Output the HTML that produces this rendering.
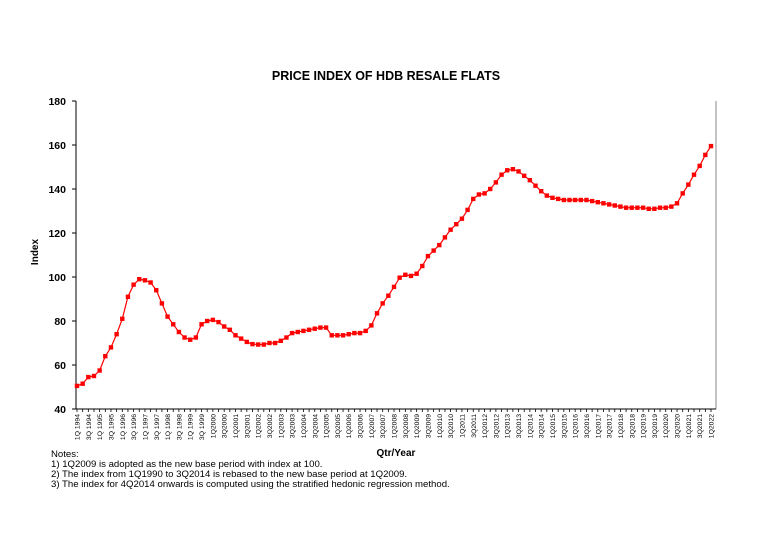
<!DOCTYPE html>
<html><head><meta charset="utf-8"><style>
body{margin:0;background:#fff;width:768px;height:543px;overflow:hidden;font-family:"Liberation Sans",Arial,sans-serif}
</style></head><body>
<svg id="s" width="768" height="543" xmlns="http://www.w3.org/2000/svg" font-family="Liberation Sans, Arial, sans-serif">
<rect width="768" height="543" fill="#fff"/>
<text x="386" y="80" font-size="12.5" font-weight="bold" text-anchor="middle">PRICE INDEX OF HDB RESALE FLATS</text>
<text transform="translate(38,252) rotate(-90)" font-size="10" font-weight="bold" text-anchor="middle">Index</text>
<text x="396" y="456" font-size="10" font-weight="bold" text-anchor="middle">Qtr/Year</text>
<g font-size="9.6" fill="#000">
<text x="51" y="457">Notes:</text>
<text x="51" y="467">1) 1Q2009 is adopted as the new base period with index at 100.</text>
<text x="51" y="477">2) The index from 1Q1990 to 3Q2014 is rebased to the new base  period at 1Q2009.</text>
<text x="51" y="487">3) The index for 4Q2014 onwards is computed using the stratified hedonic regression method.</text>
</g>
<line x1="716" y1="101" x2="716" y2="409" stroke="#888" stroke-width="1"/>
<g id="g"></g>
</svg>
<script>
var v=[50.5,51.5,54.5,55,57.5,64,68,74,81,91,96.5,99,98.5,97.5,94,88,82,78.5,75,72.5,71.5,72.5,78.5,80,80.5,79.5,77.5,76,73.5,72,70.5,69.5,69.3,69.3,70,70,71,72.5,74.5,75,75.5,76,76.5,77,77,73.5,73.5,73.5,74,74.5,74.5,75.5,78,83.5,88,91.5,95.5,99.7,101,100.5,101.5,105,109.5,112,114.5,118,121.5,124,126.5,130.5,135.5,137.5,138,140,143,146.5,148.5,149,148,146,144,141.5,139,137,136,135.5,135,135,135,135,135,134.5,134,133.5,133,132.5,132,131.5,131.5,131.5,131.5,131,131,131.5,131.5,132,133.5,138,142,146.5,150.5,155.5,159.5];
var g=document.getElementById('g'),h='';
function X(i){return 77+i*(634/112);}function Y(t){return 409-(t-40)*2.2;}
h+='<line x1="76" y1="101" x2="76" y2="409" stroke="#000"/><line x1="76" y1="409" x2="716" y2="409" stroke="#000"/>';
for(var t=40;t<=180;t+=20){h+='<line x1="72" y1="'+Y(t)+'" x2="76" y2="'+Y(t)+'" stroke="#000"/><text x="66" y="'+(Y(t)+4)+'" font-size="10.5" font-weight="bold" text-anchor="end">'+t+'</text>';}
for(var i=0;i<v.length;i++){var x=X(i);h+='<line x1="'+x+'" y1="409" x2="'+x+'" y2="412" stroke="#000" stroke-width="0.8"/>';
if(i%2==0){var q=(i%4)+1,yr=1994+Math.floor(i/4);var lab=(q==1?'1Q':'3Q')+(yr>=2000?'':' ')+yr;
h+='<text transform="translate('+(x+2.5)+',414) rotate(-90)" font-size="6.8" text-anchor="end">'+lab+'</text>';}}
var p=v.map(function(t,i){return X(i).toFixed(1)+','+Y(t).toFixed(1)}).join(' ');
h+='<polyline points="'+p+'" fill="none" stroke="#f00" stroke-width="1.2"/>';
for(var i=0;i<v.length;i++)h+='<rect x="'+(X(i)-2.2)+'" y="'+(Y(v[i])-2.2)+'" width="4.4" height="4.4" fill="#f00"/>';
g.innerHTML=h;
</script>
</body></html>
